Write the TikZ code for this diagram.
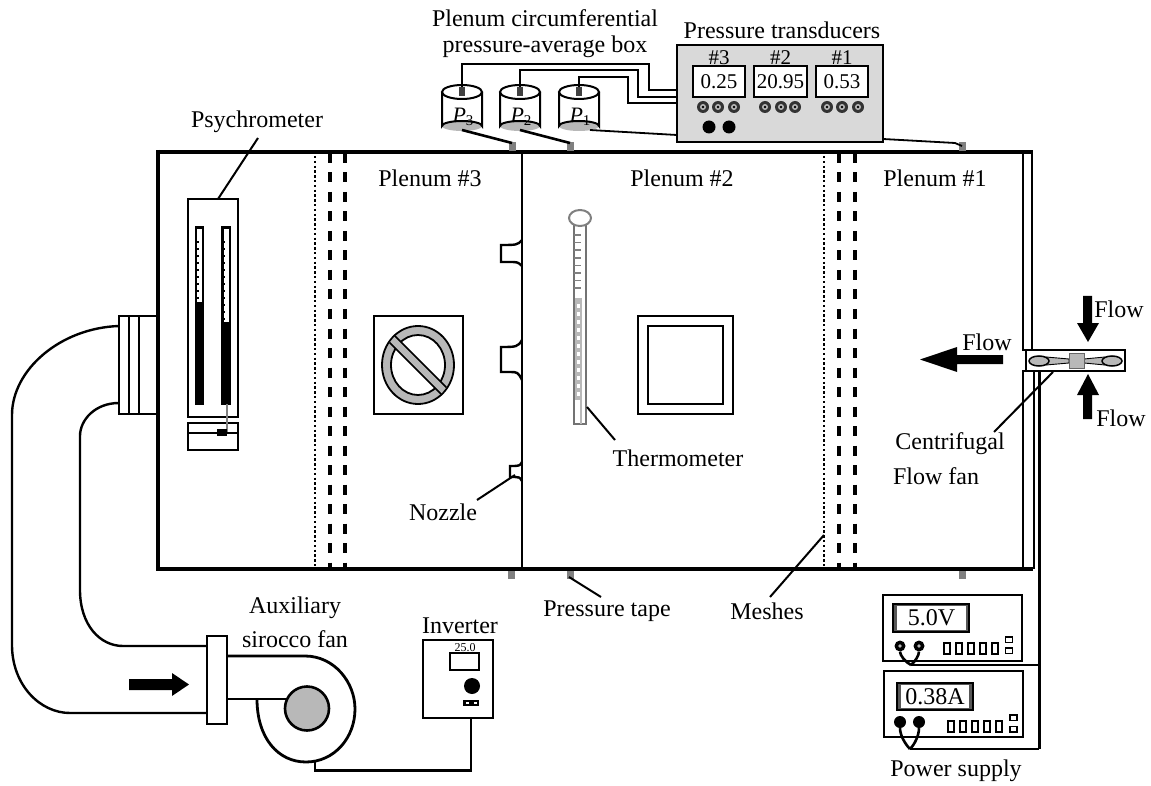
\documentclass[tikz,border=0pt]{standalone}
\usepackage{fontspec}
\setmainfont{Liberation Serif}
\usetikzlibrary{arrows.meta}
\definecolor{panelgrey}{gray}{0.85}
\definecolor{partgrey}{gray}{0.72}
\definecolor{tapegrey}{gray}{0.5}
\tikzset{
  x=1pt,y=-1pt,
  lab/.style={font=\fontsize{24}{26}\selectfont,inner sep=0pt,outer sep=0pt,text=black},
  hashlab/.style={font=\fontsize{21}{22}\selectfont,inner sep=0pt,outer sep=0pt},
  readout/.style={font=\fontsize{21}{22}\selectfont,inner sep=0pt},
  wall/.style={line width=3.8pt,draw=black},
  thinline/.style={line width=2.4pt,draw=black},
  midline/.style={line width=2.8pt,draw=black},
  leader/.style={line width=2pt,draw=black},
  wire/.style={line width=2.6pt,draw=black},
  tube/.style={line width=2pt,draw=black},
  meshdash/.style={line width=3.3pt,draw=black,dash pattern=on 10pt off 9.5pt},
  meshdot/.style={line width=2.8pt,draw=black,dash pattern=on 2.4pt off 2.4pt},
  tape/.style={fill=tapegrey,draw=none},
  bigarrow/.style={fill=black,draw=none},
  blade/.style={fill=partgrey,draw=black,line width=1.5pt}
}
\newcommand{\bxn}[6]{% name, style, x1,y1,x2,y2
  \pgfmathsetmacro{\bxcx}{(#3+#5)/2}\pgfmathsetmacro{\bxcy}{(#4+#6)/2}
  \pgfmathsetmacro{\bxw}{#5-#3}\pgfmathsetmacro{\bxh}{#6-#4}
  \node[#2,rectangle,inner sep=0pt,outer sep=0pt,minimum width=\bxw pt,minimum height=\bxh pt] (#1) at (\bxcx,\bxcy) {};}
\newcommand{\hl}[1]{{\itshape #1}}
\begin{document}
\begin{tikzpicture}
\useasboundingbox[fill=white] (0,0) rectangle (1151,786);

% ---- mesh screens
\foreach \mx/\kind in {330/meshdash,345/meshdash,839/meshdash,855/meshdash}
  \draw[\kind] (\mx,153) -- (\mx,567);
\foreach \mx in {315,824}
  \draw[meshdot] (\mx,156) -- (\mx,567);

% ---- main chamber
\coordinate (divT) at (522,152); \coordinate (divB) at (522,569);
\draw[wall] (158,152) -- (1033,152);
\draw[wall] (158,569) -- (1033,569);
\draw[wall] (158,150) -- (158,571);
% right wall
\draw[thinline] (1023,152) -- (1023,350) -- (1032,350);
\draw[line width=2.6pt] (1032,152) -- (1032,350);
\draw[thinline] (1032,371) -- (1023,371) -- (1023,569);
\draw[thinline] (1034,371) -- (1034,569);

% ---- nozzles
\draw[thinline,fill=white] (522,240) .. controls (518,245) and (516,245) .. (501,245) -- (501,262) -- (510,262) .. controls (517,262) and (518,262) .. (522,266);
\draw[thinline,fill=white] (522,340) .. controls (518,347) and (516,347) .. (501,347) -- (501,372) -- (510,372) .. controls (517,372) and (518,372) .. (522,380);
\draw[thinline,fill=white] (522,462) .. controls (520,466) and (519,466) .. (510,466) -- (510,477) -- (515,477) .. controls (518,477) and (520,477) .. (522,481);
\draw[midline] (divT) -- (divB);

% ---- pressure tapes
\foreach \tx in {512,570,962} \fill[tape] (\tx-3.5,142) rectangle (\tx+3.5,151);
\foreach \tx in {511,570,962} \fill[tape] (\tx-3.5,571) rectangle (\tx+3.5,579);

% ---- psychrometer
\bxn{psy}{draw=black,line width=2.2pt,fill=white}{188}{199}{238}{417}
\bxn{psyb}{draw=black,line width=2.2pt,fill=white}{188}{423}{238}{450}
\draw[thinline] (188,433) -- (238,433);
\fill (195,226) rectangle (204,405);
\fill (221,226) rectangle (231,405);
\fill[white] (197,229) rectangle (202,302);
\fill[white] (223.5,229) rectangle (228.5,322);
\foreach \ty in {241,248,...,302} \fill (196,\ty) rectangle (198.5,\ty+1.6);
\foreach \ty in {241,248,...,319} \fill (222,\ty) rectangle (224.5,\ty+1.6);
\draw[line width=2pt,draw=tapegrey] (227,404) -- (227,432);
\fill (217,429) rectangle (227,436);

% ---- duct to wall
\bxn{flange}{draw=black,line width=2.2pt,fill=white}{119}{316}{157}{414}
\draw[thinline] (129,316) -- (129,414);
\draw[thinline] (139,316) -- (139,414);
\draw[thinline] (flange.west |- 0,326) .. controls (60,328) and (12,370) .. (12,415) -- (12,645)
  .. controls (12,685) and (40,713) .. (70,713) -- (207,713);
\draw[thinline] (flange.west |- 0,403) .. controls (95,403) and (80,420) .. (80,436) -- (80,590)
  .. controls (80,625) and (100,646) .. (123,646) -- (207,646);

% ---- inlet arrow
\fill[bigarrow] (129,679) -- (172,679) -- (172,673) -- (189,684.5) -- (172,696) -- (172,690) -- (129,690) -- cycle;

% ---- sirocco fan
\bxn{fanfl}{draw=black,line width=2.2pt,fill=white}{207}{636}{227}{724}
\draw[midline] (227,656) -- (305,656) .. controls (334,656) and (355,682) .. (355,709)
  .. controls (355,738) and (334,762) .. (306,762)
  .. controls (278,762) and (257,738) .. (257,699);
\draw[midline] (227,699) -- (287,699);
\node[circle,draw=black,line width=2.6pt,fill=partgrey,minimum size=44pt,inner sep=0pt] (hub) at (307,708.5) {};

% ---- inverter
\bxn{inv}{draw=black,line width=2.6pt,fill=white}{423}{640}{493}{718}
\bxn{invd}{draw=black,line width=2.4pt,fill=white}{450}{653}{479}{670}
\node[font=\fontsize{12}{12}\selectfont,inner sep=0pt] (invt) at (465,648) {25.0};
\node[circle,fill=black,minimum size=16pt,inner sep=0pt] (invk) at (472,686) {};
\fill (463,700) rectangle (479,706);
\fill[white] (466,702) rectangle (469,704); \fill[white] (474,702) rectangle (477,704);
\draw[wire] (315,762) -- (315,770.5) -- (471,770.5) -- (inv.south -| 471,0);

% ---- nozzle plate
\bxn{plate}{draw=black,line width=2.8pt,fill=white}{374}{316}{463}{414}
\fill[partgrey,draw=black,line width=1.8pt] (418,365) ellipse [x radius=36,y radius=39];
\fill[white,draw=black,line width=1.8pt] (418,365) ellipse [x radius=27,y radius=30];
\begin{scope}
\clip (418,365) ellipse [x radius=35,y radius=38];
\draw[black,line width=10pt] (392,339) -- (444,391);
\draw[partgrey,line width=6.6pt] (392,339) -- (444,391);
\end{scope}

% ---- square window
\bxn{win}{draw=black,line width=2.8pt,fill=white}{638}{316}{733}{414}
\bxn{wini}{draw=black,line width=2.8pt,fill=white}{648}{326}{723}{404}

% ---- thermometer
\bxn{therm}{draw=black!55,line width=2.6pt,fill=white}{574}{225}{586}{424}
\fill[partgrey] (575,298) rectangle (581,400);
\foreach \ty in {304,312,...,396} \fill[white] (576.5,\ty) rectangle (579.5,\ty+4);
\draw[partgrey,line width=1.8pt] (581,298) -- (581,424);
\foreach \ty in {235,242.6,...,290} \draw[tapegrey,line width=1.6pt] (574,\ty) -- (581,\ty);
\fill[white,draw=tapegrey,line width=2pt] (580,218) ellipse [x radius=11,y radius=8];

% ---- transducer panel
\bxn{tx}{draw=black,line width=2.6pt,fill=panelgrey}{677}{45}{883}{142}
\foreach \nm/\xa/\xb/\val/\hsh in {d3/693/745/0.25/\#3,d2/754/807/20.95/\#2,d1/816/868/0.53/\#1}{
  \bxn{\nm}{draw=black,line width=2.2pt,fill=white}{\xa}{66}{\xb}{97}
  \node[readout] at (\nm.center) {\val};
  \node[hashlab] at ([yshift=8pt]\nm.north) {\hsh};
}
\foreach \kx in {703,718,734,765,781,795,827,842,858}{
  \fill[black!80] (\kx,107) circle (6);
  \fill[partgrey] (\kx,107) circle (3);
  \fill[black] (\kx,107) circle (1.3);
}
\fill (709,127) circle (6.5);
\fill (729,127) circle (6.5);

% ---- cans
\foreach \nm/\cx/\sub in {c3/462/3,c2/520/2,c1/579/1}{
  \coordinate (\nm top) at (\cx,92);
  \coordinate (\nm bot) at (\cx,131);
  \fill[white] (\cx-20,92) rectangle (\cx+20,126);
  \fill[partgrey] (\cx,126) ellipse [x radius=20,y radius=5];
  \draw[tube] (\cx-20,92) -- (\cx-20,126) arc[start angle=180,end angle=360,x radius=20,y radius=5] -- (\cx+20,92);
  \draw[tube,fill=white] (\cx,92) ellipse [x radius=20,y radius=7];
  \node[font=\fontsize{22}{22}\selectfont,inner sep=0pt] at (\cx+1,117) {\hl{P}\raisebox{-3pt}{\fontsize{15}{15}\selectfont\sub}};
}
\draw[wire] (c3top) -- (462,64) -- (649,64) -- (649,90) -- (tx.west |- 0,90);
\draw[wire] (c2top) -- (520,70) -- (638,70) -- (638,97) -- (tx.west |- 0,97);
\draw[wire] (c1top) -- (579,77) -- (628,77) -- (628,103) -- (tx.west |- 0,103);
\foreach \cx in {462,520,579} \fill[black!75] (\cx-3,87) rectangle (\cx+3,96);
\draw[wire] (462,130) -- (512,143);
\draw[wire] (520,130) -- (570,143);
\draw[line width=1.8pt] (590,130) -- (tx.west |- 0,135);
\draw[line width=1.8pt] (tx.east |- 0,139) -- (955,143) -- (962,146);

% ---- test fan
\bxn{cf}{draw=black,line width=2.6pt,fill=white}{1026}{350}{1125}{371}
\fill[partgrey,draw=black,line width=.9pt] (1046,357) -- (1069,359) -- (1069,363) -- (1046,365) -- cycle;
\fill[partgrey,draw=black,line width=.9pt] (1105,357) -- (1084,359) -- (1084,363) -- (1105,365) -- cycle;
\node[fill=partgrey,draw=black!60,line width=.9pt,minimum width=15pt,minimum height=15pt,inner sep=0pt] (hubf) at (1076.5,360.5) {};
\draw[blade] (1039,361) ellipse [x radius=10,y radius=5];
\draw[blade] (1112,361) ellipse [x radius=10,y radius=5];

% ---- flow arrows
\fill[bigarrow] (1003,355) -- (957,355) -- (957,347) -- (920,359.5) -- (957,372) -- (957,364) -- (1003,364) -- cycle;
\fill[bigarrow] (1083,296) -- (1092,296) -- (1092,323) -- (1099,323) -- (1088,342) -- (1077,323) -- (1083,323) -- cycle;
\fill[bigarrow] (1083,419) -- (1092,419) -- (1092,395) -- (1099,395) -- (1088,374) -- (1077,395) -- (1083,395) -- cycle;

% ---- meters
\draw[line width=3pt] (1039,371) -- (1039,749);
\bxn{m1}{draw=black,line width=2.2pt,fill=white}{883}{595}{1022}{661}
\bxn{m2}{draw=black,line width=2.2pt,fill=white}{884}{671}{1023}{737}
\bxn{m1d}{draw=black,line width=2.2pt,fill=panelgrey!40!black}{893}{604}{969}{632}
\bxn{m1i}{fill=white}{897}{606}{966}{630}
\bxn{m2d}{draw=black,line width=2.2pt,fill=panelgrey!40!black}{897}{683}{973}{710}
\bxn{m2i}{fill=white}{901}{685}{969}{708}
\node[readout,font=\fontsize{24}{24}\selectfont] at (m1i.center) {5.0V};
\node[readout,font=\fontsize{24}{24}\selectfont] at (m2i.center) {0.38A};
\coordinate (j1) at (911,665); \coordinate (j2) at (910,749);
\foreach \kx/\cxa/\cxb in {900/905/905,919/915/915} {
  \node[circle,fill=black,minimum size=11pt,inner sep=0pt] (k) at (\kx,646) {};
  \draw[wire] (k) .. controls (\kx,655) and (\cxa,662) .. (j1);
  \fill[partgrey] (\kx,646) circle (1.8);
  \node[circle,fill=black,minimum size=12pt,inner sep=0pt] (q) at (\kx,722) {};
  \draw[wire] (q) .. controls (\kx,735) and (\cxb,744) .. (j2);
}
\draw[wire] (j1) -- (1039,665);
\draw[wire] (j2) -- (1039,749);
\foreach \i in {0,...,4}{
  \draw[line width=2pt] (943.5+\i*12.2,643) rectangle ++(6,11);
  \draw[line width=2pt] (947.5+\i*12.2,721) rectangle ++(6,11);
}
\foreach \by in {637,648} \draw[line width=1.8pt] (1005.5,\by) rectangle ++(7,5.5);
\foreach \by in {715,726.5} \draw[line width=1.8pt] (1010,\by) rectangle ++(7,5.5);

% ---- labels
\node[lab] (lbox1) at (545,18) {Plenum circumferential};
\node[lab] (lbox2) at (545,47) {pressure-average box};
\node[lab] (ltr) at (782,30) {Pressure transducers};
\node[lab] (lpsy) at (257,122) {Psychrometer};
\node[lab] (lp3) at (430,178) {Plenum \#3};
\node[lab] (lp2) at (682,178) {Plenum \#2};
\node[lab] (lp1) at (935,178) {Plenum \#1};
\node[lab] (lth) at (678,458) {Thermometer};
\node[lab] (lnz) at (443,512) {Nozzle};
\node[lab] (lpt) at (607,611) {Pressure tape};
\node[lab] (lme) at (767,611) {Meshes};
\node[lab] (lau) at (295,608) {Auxiliary};
\node[lab] (lsi) at (295,639) {sirocco fan};
\node[lab] (lin) at (460,626) {Inverter};
\node[lab] (lps) at (956,771) {Power supply};
\node[lab] (lf1) at (1119,309) {Flow};
\node[lab] (lf2) at (987,342) {Flow};
\node[lab] (lf3) at (1121,418) {Flow};
\node[lab] (lcf) at (950,444) {Centrifugal};
\node[lab] (lff) at (936,476) {Flow fan};

% ---- leaders
\coordinate (a1) at (218,199);  \coordinate (a2) at (258,138);
\draw[leader] (a1) -- (a2);
\coordinate (a3) at (587,407);  \coordinate (a4) at (615,440);
\draw[leader] (a3) -- (a4);
\coordinate (a5) at (477,500);  \coordinate (a6) at (515,475);
\draw[leader] (a5) -- (a6);
\coordinate (a7) at (569,577);  \coordinate (a8) at (601,597);
\draw[leader] (a7) -- (a8);
\coordinate (a9) at (770,597);  \coordinate (a10) at (824,535);
\draw[leader] (a9) -- (a10);
\coordinate (a11) at (1053,372); \coordinate (a12) at (994,432);
\draw[leader] (a11) -- (a12);
\end{tikzpicture}
\end{document}
